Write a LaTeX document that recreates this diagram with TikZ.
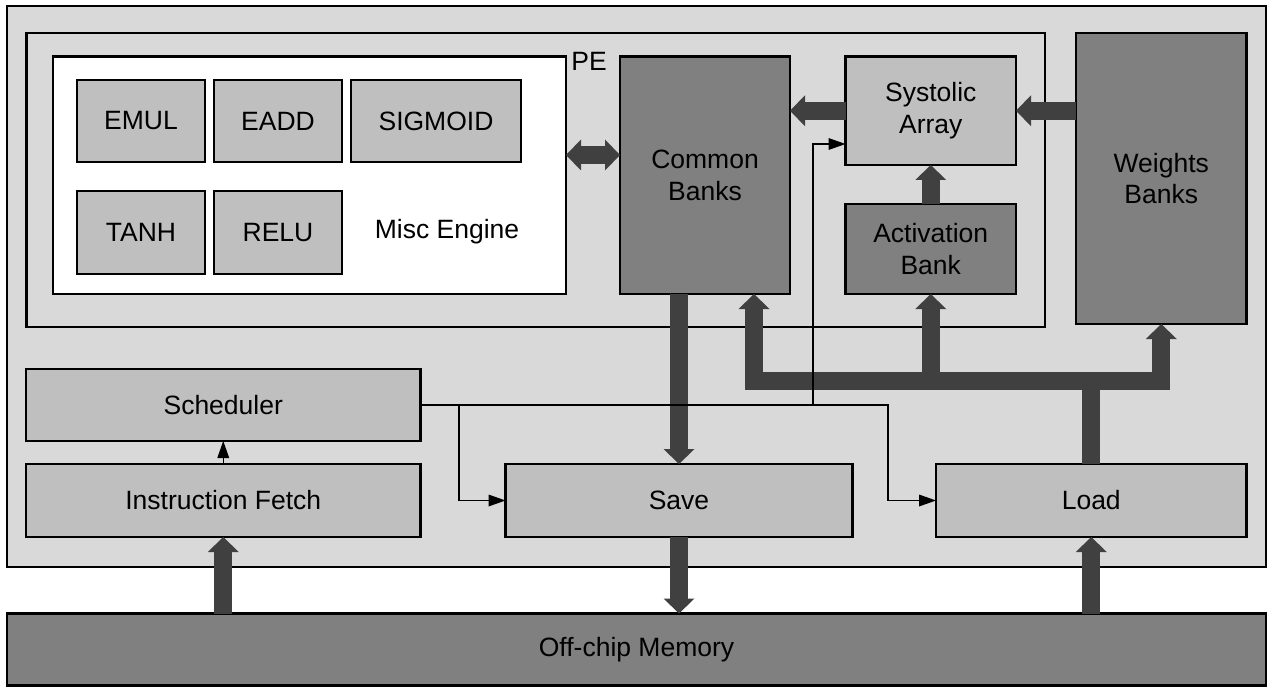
\documentclass[tikz,border=0pt]{standalone}
\usepackage{fontspec}
\setmainfont{Liberation Sans}
\usetikzlibrary{arrows.meta}

\definecolor{chipfill}{HTML}{D9D9D9}
\definecolor{unitlight}{HTML}{BFBFBF}
\definecolor{unitdark}{HTML}{808080}
\definecolor{busgray}{HTML}{404040}

\newcommand{\labelfont}{\fontsize{26.5}{31.5}\selectfont}

\tikzset{
  blk/.style={draw=black, line width=2.6pt, inner sep=0pt, outer sep=0pt,
    align=center, font=\labelfont},
  light/.style={blk, fill=unitlight},
  dark/.style={blk, fill=unitdark},
  fattip/.tip={Triangle[width=31pt,length=15pt,line width=0pt]},
  thintip/.tip={Triangle[width=12pt,length=17pt,line width=0pt]},
  fat/.style={draw=busgray, line width=18pt, line join=miter},
  fatto/.style={fat, -fattip},
  fatboth/.style={fat, fattip-fattip},
  ctrl/.style={draw=black, line width=1.3pt, -thintip}
}

\begin{document}
\begin{tikzpicture}[x=1pt, y=-1pt]
  \useasboundingbox (0,0) rectangle (1273,687);

  % chip and processing element frames
  \node[blk, fill=chipfill, minimum width=1259pt, minimum height=561pt] (chip) at (636.5,286.5) {};
  \node[blk, fill=chipfill, minimum width=1018.5pt, minimum height=294pt] (pe) at (535.75,180) {};
  \node[blk, fill=white, minimum width=513pt, minimum height=237.5pt] (misc) at (309.5,175.25) {};
  \node[font=\labelfont, inner sep=0pt] (pelabel) at (589,61.5) {PE};

  % misc engine units
  \node[light, minimum width=128pt, minimum height=82pt] (emul) at (141,121) {EMUL};
  \node[light, minimum width=128pt, minimum height=82pt] (eadd) at (278,121) {EADD};
  \node[light, minimum width=170pt, minimum height=82pt] (sigmoid) at (436,121) {SIGMOID};
  \node[light, minimum width=128pt, minimum height=83pt] (tanh) at (141,232.5) {TANH};
  \node[light, minimum width=128pt, minimum height=83pt] (relu) at (278,232.5) {RELU};
  \node[font=\labelfont, inner sep=0pt] (misclabel) at (447,232) {Misc Engine};

  % memories and compute array
  \node[dark, minimum width=170pt, minimum height=237.5pt] (common) at (705,175.25) {Common\\Banks};
  \node[light, minimum width=170.5pt, minimum height=108.5pt] (systolic) at (930.75,110.75) {Systolic\\Array};
  \node[dark, minimum width=170.5pt, minimum height=90pt] (activation) at (930.75,249) {Activation\\Bank};
  \node[dark, minimum width=170.5pt, minimum height=291pt] (weights) at (1161.25,178.5) {Weights\\Banks};

  % control and transfer units
  \node[light, minimum width=394.5pt, minimum height=72pt] (sched) at (223.25,405) {Scheduler};
  \node[light, minimum width=394.5pt, minimum height=73pt] (fetch) at (223.25,500.5) {Instruction Fetch};
  \node[light, minimum width=347pt, minimum height=73pt] (save) at (679,500.5) {Save};
  \node[light, minimum width=310.5pt, minimum height=73pt] (load) at (1091.25,500.5) {Load};
  \node[dark, minimum width=1259pt, minimum height=72pt] (offchip) at (636.5,649.5) {Off-chip Memory};

  % data paths
  \draw[fatboth] (misc.east |- 0,155) -- (common.west |- 0,155);
  \draw[fatto] (systolic.west) -- (common.east |- systolic.west);
  \draw[fatto] (weights.west |- systolic.east) -- (systolic.east);
  \draw[fatto] (activation.north) -- (systolic.south);

  \coordinate (busL) at (754,381);
  \coordinate (busR) at (1161.25,381);
  \draw[fatboth] (common.south -| busL) -- (busL) -- (busR) -- (weights.south);
  \draw[fatto] (activation.south |- busL) -- (activation.south);
  \draw[fat] (load.north) -- (load.north |- busL);

  \draw[fatto] (common.south -| save.north) -- (save.north);
  \draw[fatto] (save.south) -- (offchip.north -| save.south);
  \draw[fatto] (offchip.north -| fetch.south) -- (fetch.south);
  \draw[fatto] (offchip.north -| load.south) -- (load.south);

  % control paths
  \coordinate (tapSave) at (459,405);
  \coordinate (tapSys) at (813,405);
  \coordinate (tapLoad) at (888,405);
  \draw[ctrl] (fetch.north) -- (sched.south);
  \draw[ctrl] (sched.east) -- (tapLoad) |- (load.west);
  \draw[ctrl] (tapSave) |- (save.west);
  \draw[ctrl] (tapSys) |- (systolic.west |- 0,144);
\end{tikzpicture}
\end{document}
